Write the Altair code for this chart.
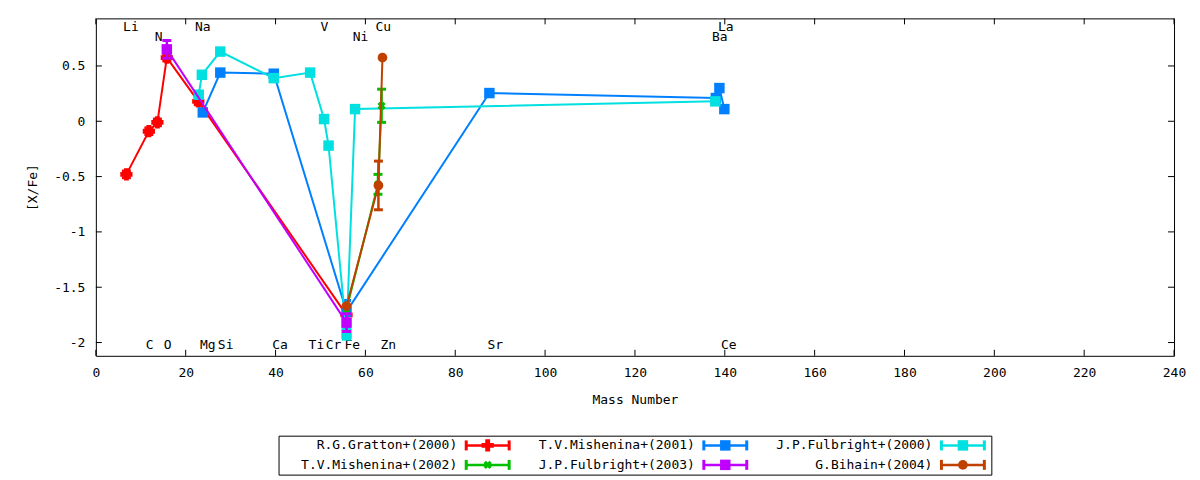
import altair as alt
import pandas as pd

FONT = "DejaVu Sans Mono"
W, H = 1080, 338
XDOM = [0, 240]
YDOM = [-2.12, 0.93]

# ---- data ----
series_names = ["R.G.Gratton+(2000)", "T.V.Mishenina+(2001)", "J.P.Fulbright+(2000)",
                "T.V.Mishenina+(2002)", "J.P.Fulbright+(2003)", "G.Bihain+(2004)"]
series_colors = ["#ff0000", "#0080ff", "#00e0e0", "#00c000", "#c000ff", "#c04000"]
series_shapes = ["cross", "square", "square", "cross", "square", "circle"]
series_sizes = [150, 110, 110, 70, 110, 95]
series_angles = [0, 0, 0, 45, 0, 0]

gratton_x = [6.8, 11.8, 13.7, 15.8, 22.8, 55.8]
gratton_y = [-0.48, -0.09, -0.01, 0.575, 0.18, -1.75]
gratton_err = [0.03, 0.03, 0.03, 0.03, 0.03, 0.06]

mish01_x = [23.8, 27.7, 39.6, 55.8, 87.6, 138.0, 138.8, 139.9]
mish01_y = [0.08, 0.44, 0.43, -1.72, 0.255, 0.21, 0.30, 0.11]
mish01_err = [0.0, 0.0, 0.0, 0.1, 0.0, 0.0, 0.0, 0.0]

fulb00_x = [22.9, 23.6, 27.7, 39.6, 47.7, 50.8, 51.8, 55.8, 57.7, 137.9]
fulb00_y = [0.24, 0.42, 0.63, 0.39, 0.44, 0.02, -0.22, -1.92, 0.11, 0.18]
fulb00_err = [0.0, 0.0, 0.0, 0.0, 0.0, 0.0, 0.0, 0.05, 0.0, 0.0]

mish02_x = [55.8, 62.8, 63.6]
mish02_y = [-1.70, -0.57, 0.14]
mish02_err = [0.0, 0.09, 0.15]

fulb03_x = [15.8, 55.8]
fulb03_y = [0.65, -1.82]
fulb03_err = [0.08, 0.08]

bihain_x = [55.8, 62.9, 63.8]
bihain_y = [-1.67, -0.58, 0.575]
bihain_err = [0.0, 0.22, 0.0]

series_data = [
    (gratton_x, gratton_y, gratton_err),
    (mish01_x, mish01_y, mish01_err),
    (fulb00_x, fulb00_y, fulb00_err),
    (mish02_x, mish02_y, mish02_err),
    (fulb03_x, fulb03_y, fulb03_err),
    (bihain_x, bihain_y, bihain_err),
]

top_labels = ["Li", "N", "Na", "V", "Ni", "Cu", "La", "Ba"]
top_label_x = [7.8, 14.0, 23.8, 50.9, 58.9, 64.0, 140.2, 138.9]
top_label_y = [0.85, 0.76, 0.85, 0.85, 0.76, 0.85, 0.85, 0.76]
bottom_labels = ["C", "O", "Mg", "Si", "Ca", "Ti", "Cr", "Fe", "Zn", "Sr", "Ce"]
bottom_label_x = [12.0, 16.0, 24.9, 28.9, 41.0, 49.1, 52.9, 57.1, 65.1, 88.9, 140.9]
bottom_label_y = -2.02

x_ticks = [0, 20, 40, 60, 80, 100, 120, 140, 160, 180, 200, 220, 240]
y_ticks = [-2, -1.5, -1, -0.5, 0, 0.5]


def X(field, axis=False):
    if axis:
        return alt.X(field, type="quantitative", scale=alt.Scale(domain=XDOM, nice=False, zero=False),
                     axis=alt.Axis(values=x_ticks, title="Mass Number", ticks=False, tickSize=0,
                                   domain=False, grid=False, labelPadding=11, titlePadding=14,
                                   labelFlush=False,
                                   labelFont=FONT, titleFont=FONT, labelFontSize=13,
                                   titleFontSize=13, titleFontWeight="normal", labelColor="black",
                                   titleColor="black"))
    return alt.X(field, type="quantitative", scale=alt.Scale(domain=XDOM, nice=False, zero=False))


def Y(field, axis=False):
    if axis:
        return alt.Y(field, type="quantitative", scale=alt.Scale(domain=YDOM, nice=False, zero=False),
                     axis=alt.Axis(values=y_ticks, title="[X/Fe]", ticks=False, tickSize=0,
                                   domain=False, grid=False, labelPadding=11, titlePadding=14,
                                   labelExpr="'' + datum.value", labelFlush=False,
                                   labelFont=FONT, titleFont=FONT, labelFontSize=13,
                                   titleFontSize=13, titleFontWeight="normal", labelColor="black",
                                   titleColor="black"))
    return alt.Y(field, type="quantitative", scale=alt.Scale(domain=YDOM, nice=False, zero=False))


layers = []

# inward ticks (also carries the axes)
xt = pd.DataFrame({"v": x_ticks})
yt = pd.DataFrame({"v": y_ticks})
layers.append(alt.Chart(xt).mark_rule(color="black", strokeWidth=1).encode(
    x=X("v", axis=True), y=alt.value(H), y2=alt.value(H - 6)))
layers.append(alt.Chart(xt).mark_rule(color="black", strokeWidth=1).encode(
    x=X("v"), y=alt.value(0), y2=alt.value(6)))
layers.append(alt.Chart(yt).mark_rule(color="black", strokeWidth=1).encode(
    y=Y("v", axis=True), x=alt.value(0), x2=alt.value(6)))
layers.append(alt.Chart(yt).mark_rule(color="black", strokeWidth=1).encode(
    y=Y("v"), x=alt.value(W), x2=alt.value(W - 6)))

# element labels
lab_df = pd.DataFrame({
    "t": top_labels + bottom_labels,
    "x": top_label_x + bottom_label_x,
    "y": top_label_y + [bottom_label_y] * len(bottom_labels),
})
layers.append(alt.Chart(lab_df).mark_text(font=FONT, fontSize=13, color="black",
                                           baseline="middle", align="center").encode(
    x=X("x"), y=Y("y"), text="t:N"))

for k, (xs, ys, errs) in enumerate(series_data):
    color = series_colors[k]
    df = pd.DataFrame({
        "x": xs, "y": ys,
        "lo": [y - e for y, e in zip(ys, errs)],
        "hi": [y + e for y, e in zip(ys, errs)],
        "i": list(range(len(xs))),
    })
    base = alt.Chart(df)
    layers.append(base.mark_line(color=color, strokeWidth=2).encode(
        x=X("x"), y=Y("y"), order="i:Q"))
    eb = base.transform_filter("datum.hi > datum.lo")
    layers.append(eb.mark_rule(color=color, strokeWidth=2.5).encode(
        x=X("x"), y=Y("lo"), y2="hi:Q"))
    layers.append(eb.mark_tick(color=color, orient="horizontal", size=9, thickness=3,
                               opacity=1).encode(x=X("x"), y=Y("lo")))
    layers.append(eb.mark_tick(color=color, orient="horizontal", size=9, thickness=3,
                               opacity=1).encode(x=X("x"), y=Y("hi")))
    layers.append(base.mark_point(shape=series_shapes[k], filled=True, size=series_sizes[k],
                                  color=color, opacity=1, angle=series_angles[k],
                                  strokeWidth=0).encode(x=X("x"), y=Y("y")))

main = alt.layer(*layers).properties(width=W, height=H)

# ---- custom legend (gnuplot style) ----
leg_df = pd.DataFrame({
    "name": series_names,
    "col": [0, 1, 2, 0, 1, 2],
    "row": [0, 0, 0, 1, 1, 1],
    "color": series_colors,
    "shape": series_shapes,
    "size": series_sizes,
    "angle": series_angles,
})
LX = alt.Scale(domain=[0, 714], nice=False, zero=False)
LY = alt.Scale(type="point", padding=0.5, domain=[0, 1])
lb = alt.Chart(leg_df).transform_calculate(
    tx="datum.col * 238 + 179",
    s1="datum.col * 238 + 188",
    s2="datum.col * 238 + 231",
    sm="datum.col * 238 + 209.5",
)
yenc = alt.Y("row:O", scale=LY, axis=None)
leg_text = lb.mark_text(font=FONT, fontSize=13, color="black", align="right",
                        baseline="middle").encode(
    x=alt.X("tx:Q", scale=LX, axis=None), y=yenc, text="name:N")
leg_line = lb.mark_rule(strokeWidth=2.5).encode(
    x=alt.X("s1:Q", scale=LX, axis=None), x2="s2:Q", y=yenc,
    color=alt.Color("color:N", scale=None))
leg_cap1 = lb.mark_tick(orient="vertical", size=10, thickness=3, opacity=1).encode(
    x=alt.X("s1:Q", scale=LX, axis=None), y=yenc, color=alt.Color("color:N", scale=None))
leg_cap2 = lb.mark_tick(orient="vertical", size=10, thickness=3, opacity=1).encode(
    x=alt.X("s2:Q", scale=LX, axis=None), y=yenc, color=alt.Color("color:N", scale=None))
leg_pt = lb.mark_point(filled=True, opacity=1, strokeWidth=0).encode(
    x=alt.X("sm:Q", scale=LX, axis=None), y=yenc,
    color=alt.Color("color:N", scale=None),
    shape=alt.Shape("shape:N", scale=None),
    size=alt.Size("size:Q", scale=None),
    angle=alt.Angle("angle:Q", scale=None))
legend = alt.layer(leg_text, leg_line, leg_cap1, leg_cap2, leg_pt).properties(width=714, height=39)

chart = alt.vconcat(main, legend, spacing=80, bounds="flush", center=True).properties(
    padding={"left": 18, "top": 9, "right": 5, "bottom": 5},
    background="white",
).configure_view(stroke="black", strokeWidth=1)

chart.save("out.html", embed_options={"renderer": "svg", "actions": False})
